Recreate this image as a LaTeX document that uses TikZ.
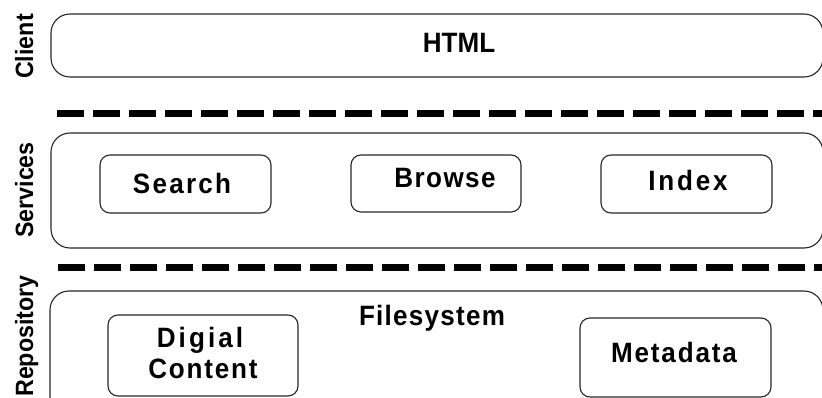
\documentclass[tikz,border=0pt]{standalone}
\usepackage{fontspec}
\setmainfont{Liberation Sans}
\begin{document}
\begin{tikzpicture}[x=1pt,y=-1pt,
  layer/.style={draw=black!85, line width=1.1pt, rounded corners=19pt},
  comp/.style={draw=black!85, line width=1.1pt, rounded corners=10pt},
  sep/.style={line width=7pt, dash pattern=on 27pt off 9pt},
  side/.style={rotate=90, anchor=base, inner sep=0pt, font=\bfseries\fontsize{25}{28}\selectfont\addfontfeature{FakeStretch=0.93}},
  lbl/.style={anchor=base, inner sep=0pt, align=center, font=\bfseries\fontsize{28}{31}\selectfont\addfontfeature{FakeStretch=0.93}}]
\useasboundingbox (0,0) rectangle (822,398);
\clip (0,0) rectangle (822,398);
% layers
\draw[layer] (51,14) rectangle (823,77);
\draw[layer] (51,133) rectangle (823,248);
\draw[layer] (50,291) rectangle (823,430);
% separators
\coordinate (s1a) at (57,113.5);
\coordinate (s1b) at (830,113.5);
\coordinate (s2a) at (58,267);
\coordinate (s2b) at (830,267);
\draw[sep] (s1a) -- (s1b);
\draw[sep] (s2a) -- (s2b);
% components
\draw[comp] (100,155) rectangle (271,213);
\draw[comp] (351,155) rectangle (521,212);
\draw[comp] (601,155) rectangle (772,213);
\draw[comp] (108,315) rectangle (298,396);
\draw[comp] (580,318) rectangle (771,397);
% side labels
\node[side] (client) at (33,46.5) {Client};
\node[side] (services) at (33,190) {Services};
\node[side] (repo) at (33,336) {Repository};
% texts
\node[lbl] (html) at (459,53) {HTML};
\node[lbl] (search) at (182,193.5) {\addfontfeature{LetterSpace=8}Search};
\node[lbl] (browse) at (445,188) {\addfontfeature{LetterSpace=5}Browse};
\node[lbl] (index) at (688,191) {\addfontfeature{LetterSpace=10}Index};
\node[lbl] (fs) at (432,325) {\addfontfeature{LetterSpace=4.5}Filesystem};
\node[lbl] (digial) at (200,347) {\addfontfeature{LetterSpace=11}Digial};
\node[lbl] (content) at (203,378) {\addfontfeature{LetterSpace=6.5}Content};
\node[lbl] (meta) at (674,362) {\addfontfeature{LetterSpace=6.5}Metadata};
\end{tikzpicture}
\end{document}
